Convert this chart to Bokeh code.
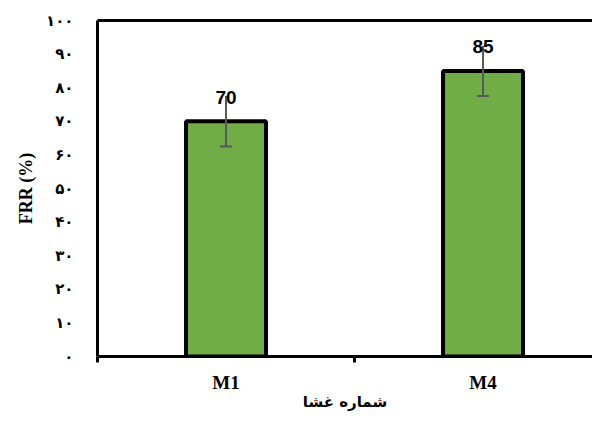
from bokeh.plotting import figure
from bokeh.models import (ColumnDataSource, Range1d, FixedTicker, LinearAxis,
                          Whisker, TeeHead, LabelSet)
from bokeh.core.properties import value
from bokeh.embed import file_html
from bokeh.resources import INLINE

categories = ["M1", "M4"]
frr = [70, 85]
err = [7.5, 7.5]
y_ticks = [0, 10, 20, 30, 40, 50, 60, 70, 80, 90, 100]
y_tick_labels = ["۰", "۱۰", "۲۰", "۳۰", "۴۰", "۵۰", "۶۰", "۷۰", "۸۰", "۹۰", "۱۰۰"]
x_title = "شماره غشا"
y_title = "FRR (%)"

xs = [i + 0.5 for i in range(len(categories))]
source = ColumnDataSource(dict(
    x=xs, top=frr,
    lower=[v - e for v, e in zip(frr, err)],
    upper=[v + e for v, e in zip(frr, err)],
    label=[str(v) for v in frr],
))

p = figure(width=592, height=413, x_range=Range1d(0, 1.926), y_range=Range1d(0, 100),
           output_backend="svg", toolbar_location=None,
           min_border_left=97, min_border_right=0, min_border_top=20, min_border_bottom=47)
p.outline_line_color = None
p.grid.visible = False
p.background_fill_color = "white"

p.vbar(x="x", top="top", bottom=0, width=0.311, source=source,
       fill_color="#70AD47", line_color="black", line_width=4)

# x axis
xa = p.xaxis[0]
xa.ticker = FixedTicker(ticks=xs, minor_ticks=list(range(len(categories) + 1)))
xa.major_label_overrides = {x: c for x, c in zip(xs, categories)}
xa.axis_line_width = 3
xa.axis_line_color = "black"
xa.major_tick_line_color = None
xa.major_tick_out = 0
xa.major_tick_in = 0
xa.minor_tick_line_color = "black"
xa.minor_tick_line_width = 3
xa.minor_tick_out = 6
xa.minor_tick_in = 0
xa.major_label_text_font = "Liberation Serif"
xa.major_label_text_font_style = "bold"
xa.major_label_text_font_size = "19px"
xa.major_label_text_color = "black"
xa.major_label_standoff = 9
xa.axis_label = x_title
xa.axis_label_text_font = "DejaVu Sans"
xa.axis_label_text_font_style = "bold"
xa.axis_label_text_font_size = "15px"
xa.axis_label_text_color = "black"
xa.axis_label_standoff = -3

ya = p.yaxis[0]
ya.ticker = FixedTicker(ticks=y_ticks)
ya.major_label_overrides = {t: l for t, l in zip(y_ticks, y_tick_labels)}
ya.axis_line_width = 3
ya.axis_line_color = "black"
ya.major_tick_line_color = None
ya.minor_tick_line_color = None
ya.major_tick_out = 0
ya.major_tick_in = 0
ya.major_label_text_font = "DejaVu Sans"
ya.major_label_text_font_style = "bold"
ya.major_label_text_font_size = "15px"
ya.major_label_text_color = "black"
ya.major_label_text_align = "right"
ya.major_label_standoff = 24
ya.axis_label = y_title
ya.axis_label_text_font = "Liberation Serif"
ya.axis_label_text_font_style = "bold"
ya.axis_label_text_font_size = "18px"
ya.axis_label_text_color = "black"
ya.axis_label_standoff = 7

# top border line
top = LinearAxis(ticker=FixedTicker(ticks=[]), major_label_text_font_size="0px",
                 axis_line_width=3, axis_line_color="black",
                 major_tick_line_color=None, minor_tick_line_color=None)
p.add_layout(top, "above")

# error bars
w = Whisker(source=source, base="x", lower="lower", upper="upper", level="annotation",
            line_color="#595959", line_width=2,
            lower_head=TeeHead(size=12, line_color="#595959", line_width=2),
            upper_head=None)
p.add_layout(w)

p.add_layout(LabelSet(x="x", y="top", text="label", source=source,
                      text_align="center", text_baseline="middle", y_offset=24,
                      text_font=value("Liberation Sans"), text_font_style="bold",
                      text_font_size="19px", text_color="black"))

open("out.html", "w").write(file_html(p, INLINE))
